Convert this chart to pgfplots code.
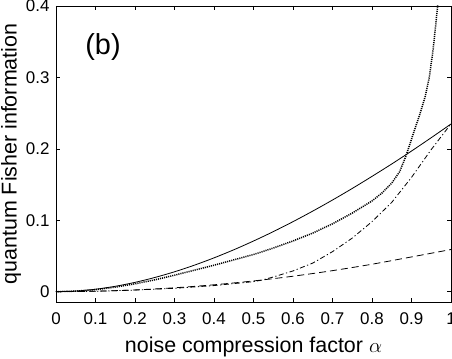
\documentclass[border=0pt]{standalone}
\usepackage{pgfplots}
\pgfplotsset{compat=1.18}
\usepackage{fontspec}
\setmainfont{Liberation Sans}

\pgfplotstableread{
x y
0 0
0.05 0.00087
0.1 0.0034
0.15 0.0075
0.2 0.0130
0.25 0.0198
0.3 0.0278
0.35 0.0370
0.4 0.0473
0.45 0.0586
0.5 0.0709
0.55 0.0840
0.6 0.0980
0.65 0.1128
0.7 0.1283
0.75 0.1445
0.8 0.1614
0.85 0.1788
0.9 0.1969
0.95 0.2156
1.0 0.2348
}\solid

\pgfplotstableread{
x y
0 0
0.05 0.0007
0.1 0.0028
0.15 0.0063
0.2 0.0110
0.25 0.0165
0.3 0.0230
0.35 0.0300
0.4 0.0370
0.45 0.0445
0.5 0.0520
0.55 0.0610
0.6 0.0710
0.65 0.0820
0.7 0.0950
0.75 0.1100
0.8 0.1270
0.825 0.1380
0.85 0.1520
0.87 0.1680
0.886 0.1900
0.905 0.2220
0.922 0.2500
0.935 0.2740
0.945 0.3000
0.955 0.3400
0.966 0.3990
0.968 0.4100
}\dotted

\pgfplotstableread{
x y
0 0
0.1 0.0005
0.2 0.0022
0.3 0.0047
0.4 0.0085
0.5 0.0140
0.52 0.0160
0.55 0.0205
0.6 0.0290
0.65 0.0400
0.7 0.0560
0.75 0.0750
0.8 0.0980
0.85 0.1250
0.9 0.1600
0.95 0.1990
1.0 0.2350
}\dashdot

\pgfplotstableread{
x y
0 0
0.1 0.0006
0.2 0.0024
0.3 0.0054
0.4 0.0096
0.5 0.0150
0.6 0.0216
0.7 0.0294
0.8 0.0384
0.9 0.0486
1.0 0.0590
}\dashed

\begin{document}
\begin{tikzpicture}
\useasboundingbox (-56bp,-57bp) rectangle (396bp,302bp);
\begin{axis}[
  scale only axis,
  width=395bp, height=296bp,
  xmin=0, xmax=1, ymin=-0.0145, ymax=0.4,
  xtick={0,0.1,...,1.0},
  ytick={0,0.1,0.2,0.3,0.4},
  xticklabels={0,0.1,0.2,0.3,0.4,0.5,0.6,0.7,0.8,0.9,1},
  yticklabels={0,0.1,0.2,0.3,0.4},
  tick align=inside,
  major tick length=4.5bp,
  axis line style={line width=0.7bp},
  every tick/.style={black, line width=0.5bp},
  tick label style={font=\fontsize{17}{19}\selectfont},
  xticklabel style={yshift=-7bp},
  yticklabel style={xshift=-3bp},
  /pgf/number format/assume math mode=true,
  xlabel={noise compression factor $\alpha$},
  ylabel={quantum Fisher information},
  label style={font=\fontsize{21.5}{24}\selectfont},
  xlabel style={yshift=-6bp},
  ylabel style={yshift=-2bp},
]
\addplot[black, line width=0.8bp, smooth] table {\solid};
\addplot[black, line width=1.5bp, dash pattern=on 1.1bp off 1bp] table {\dotted};
\addplot[black, line width=0.8bp, dash pattern=on 5bp off 2.5bp on 1.2bp off 2.5bp] table {\dashdot};
\addplot[black, line width=0.8bp, dash pattern=on 7bp off 4bp, smooth] table {\dashed};
\node[font=\fontsize{29}{32}\selectfont] at (axis cs:0.119,0.342) {(b)};
\end{axis}
\end{tikzpicture}
\end{document}
